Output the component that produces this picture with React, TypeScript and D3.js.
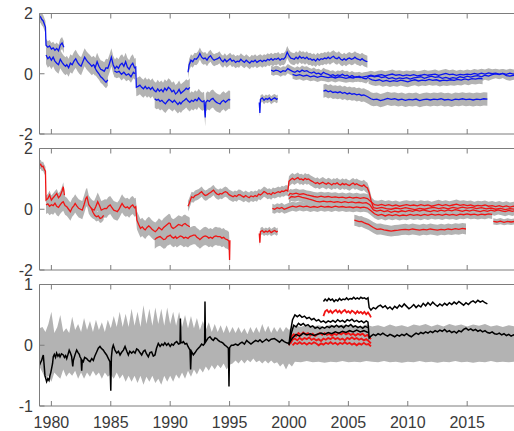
import React from 'react';
import * as d3 from 'd3';

type Pt = [number, number];
type BandPt = [number, number, number];

// ---- x axis
const YEAR_TICKS = [1980, 1985, 1990, 1995, 2000, 2005, 2010, 2015];

// ---- panel 1 (blue) : [year, value]
const b1Start: Pt[] = [[1979.0,1.92],[1979.1,1.88],[1979.2,1.8],[1979.3,1.76],[1979.4,1.66],[1979.5,1.55],[1979.55,0.95],[1979.7,0.88],[1979.85,0.92],[1980.0,0.82],[1980.15,0.86],[1980.3,0.78],[1980.45,0.84],[1980.6,0.76],[1980.75,0.95],[1980.9,1.02],[1981.05,0.88]];
const b1Main: Pt[] = [[1979.55,0.62],[1979.7,0.5],[1979.85,0.56],[1980.0,0.45],[1980.15,0.55],[1980.3,0.42],[1980.45,0.35],[1980.6,0.3],[1980.75,0.48],[1980.9,0.38],[1981.05,0.3],[1981.2,0.25],[1981.3,0.3],[1981.45,0.2],[1981.6,0.35],[1981.75,0.3],[1981.9,0.42],[1982.05,0.5],[1982.2,0.38],[1982.35,0.3],[1982.5,0.25],[1982.65,0.4],[1982.8,0.55],[1982.95,0.45],[1983.1,0.38],[1983.25,0.32],[1983.4,0.25],[1983.55,0.3],[1983.7,0.22],[1983.85,0.4],[1984.0,0.25],[1984.15,0.15],[1984.3,0.12],[1984.45,0.08],[1984.6,0.2],[1984.75,0.18],[1984.9,0.35],[1985.05,0.55],[1985.2,0.3],[1985.35,0.17],[1985.5,0.25],[1985.65,0.18],[1985.8,0.3],[1985.95,0.35],[1986.1,0.25],[1986.25,0.4],[1986.4,0.22],[1986.55,0.15],[1986.7,0.28],[1986.85,0.35],[1987.0,0.2],[1987.1,0.22],[1987.15,-0.45],[1987.3,-0.42],[1987.45,-0.38],[1987.6,-0.45],[1987.75,-0.5],[1987.9,-0.42],[1988.05,-0.5],[1988.2,-0.45],[1988.35,-0.52],[1988.5,-0.45],[1988.65,-0.55],[1988.8,-0.6],[1988.95,-0.5],[1989.1,-0.58],[1989.25,-0.52],[1989.4,-0.6],[1989.55,-0.48],[1989.7,-0.55],[1989.85,-0.45],[1990.0,-0.5],[1990.15,-0.6],[1990.3,-0.55],[1990.45,-0.67],[1990.6,-0.62],[1990.75,-0.52],[1990.9,-0.65],[1991.05,-0.6],[1991.2,-0.55],[1991.35,-0.48],[1991.5,-0.52],[1991.65,-0.45]];
const b1Branch84: Pt[] = [[1983.6,0.25],[1983.8,0.1],[1984.0,0.0],[1984.15,-0.1],[1984.3,-0.15],[1984.45,-0.22],[1984.6,-0.28],[1984.75,-0.2]];
const b1Branch86: Pt[] = [[1985.3,0.1],[1985.5,0.05],[1985.7,0.08],[1985.9,-0.02],[1986.1,0.05],[1986.3,-0.05],[1986.5,0.0],[1986.7,-0.1],[1986.9,0.05],[1987.05,0.0]];
const b1Low: Pt[] = [[1988.7,-0.83],[1988.85,-0.88],[1989.0,-0.85],[1989.15,-0.92],[1989.3,-0.88],[1989.45,-0.95],[1989.6,-1.0],[1989.75,-0.92],[1989.9,-0.85],[1990.05,-0.9],[1990.2,-0.95],[1990.35,-0.88],[1990.5,-0.95],[1990.65,-1.02],[1990.8,-0.95],[1990.9,-1.0],[1991.05,-0.92],[1991.2,-0.88],[1991.35,-0.82],[1991.5,-0.9],[1991.65,-0.95],[1991.8,-0.88],[1991.95,-0.92],[1992.1,-0.85],[1992.25,-0.9],[1992.4,-0.8],[1992.55,-0.88],[1992.7,-0.93],[1992.85,-0.9],[1992.95,-1.45],[1993.0,-0.95],[1993.15,-0.88],[1993.3,-0.92],[1993.45,-0.85],[1993.6,-0.82],[1993.75,-0.9],[1993.9,-0.95],[1994.05,-0.98],[1994.2,-1.0],[1994.35,-0.92],[1994.5,-0.88],[1994.65,-0.95],[1994.8,-0.9],[1994.95,-0.85],[1995.05,-0.88]];
const b1Up: Pt[] = [[1991.5,0.05],[1991.6,0.3],[1991.75,0.45],[1991.9,0.4],[1992.05,0.5],[1992.2,0.48],[1992.35,0.55],[1992.5,0.67],[1992.65,0.55],[1992.8,0.5],[1992.95,0.52],[1993.1,0.45],[1993.25,0.55],[1993.4,0.6],[1993.55,0.5],[1993.7,0.45],[1993.85,0.48],[1994.0,0.5],[1994.15,0.55],[1994.3,0.45],[1994.45,0.4],[1994.6,0.48],[1994.75,0.4],[1994.9,0.45],[1995.05,0.5],[1995.2,0.42],[1995.35,0.45],[1995.5,0.38],[1995.65,0.42],[1995.8,0.4],[1995.95,0.48],[1996.1,0.42],[1996.25,0.38],[1996.4,0.45],[1996.55,0.4],[1996.7,0.35],[1996.85,0.42],[1997.0,0.4],[1997.15,0.45],[1997.3,0.38],[1997.45,0.42],[1997.6,0.45],[1997.75,0.4],[1997.9,0.45],[1998.05,0.42],[1998.2,0.48],[1998.35,0.45],[1998.5,0.5],[1998.65,0.45],[1998.8,0.5],[1998.95,0.48],[1999.1,0.52],[1999.25,0.45],[1999.4,0.5],[1999.55,0.48],[1999.7,0.55],[1999.85,0.72],[2000.0,0.6],[2000.15,0.52],[2000.3,0.5],[2000.45,0.48],[2000.6,0.55],[2000.75,0.5],[2000.9,0.58],[2001.05,0.52],[2001.2,0.55],[2001.35,0.5],[2001.5,0.55],[2001.65,0.48],[2001.8,0.5],[2001.95,0.45],[2002.1,0.48],[2002.25,0.42],[2002.4,0.5],[2002.55,0.45],[2002.7,0.5],[2002.85,0.48],[2003.0,0.52],[2003.15,0.5],[2003.3,0.55],[2003.45,0.5],[2003.6,0.55],[2003.75,0.58],[2003.9,0.52],[2004.05,0.5],[2004.2,0.55],[2004.35,0.48],[2004.5,0.45],[2004.65,0.5],[2004.8,0.45],[2004.95,0.5],[2005.1,0.52],[2005.25,0.48],[2005.4,0.5],[2005.55,0.55],[2005.7,0.5],[2005.85,0.48],[2006.0,0.45],[2006.15,0.5],[2006.3,0.45],[2006.45,0.42],[2006.6,0.4]];
const b1Short: Pt[] = [[1997.5,-0.95],[1997.55,-1.3],[1997.6,-0.85],[1997.75,-0.8],[1997.9,-0.88],[1998.05,-0.82],[1998.2,-0.85],[1998.35,-0.8],[1998.5,-0.88],[1998.65,-0.83],[1998.8,-0.8],[1998.95,-0.85],[1999.05,-0.82]];
const b1Mid: Pt[] = [[1998.5,0.12],[1998.7,0.08],[1998.9,0.12],[1999.1,0.1],[1999.3,0.05],[1999.5,0.1],[1999.7,0.08],[1999.9,0.17],[2000.1,0.12],[2000.3,0.08],[2000.5,0.05],[2000.7,0.1],[2000.9,0.06],[2001.1,0.12],[2001.3,0.08],[2001.5,0.1],[2001.7,0.05],[2001.9,0.02],[2002.1,0.06],[2002.3,0.0],[2002.5,0.02],[2002.7,-0.03],[2002.9,0.05],[2003.1,0.0],[2003.3,-0.02],[2003.5,-0.06],[2003.7,-0.03],[2003.9,-0.08],[2004.1,-0.04],[2004.3,-0.06],[2004.5,-0.02],[2004.7,-0.07],[2004.9,-0.05],[2005.1,-0.1],[2005.3,-0.06],[2005.5,-0.1],[2005.7,-0.12],[2005.9,-0.08],[2006.1,-0.12],[2006.3,-0.15],[2006.5,-0.17],[2006.7,-0.1],[2006.9,-0.07],[2007.2,-0.1],[2007.5,-0.08],[2007.8,-0.13],[2008.1,-0.1],[2008.4,-0.16],[2008.7,-0.13],[2009.0,-0.18],[2009.3,-0.14],[2009.6,-0.16],[2009.9,-0.13],[2010.2,-0.18],[2010.5,-0.14],[2010.8,-0.12],[2011.1,-0.1],[2011.4,-0.15],[2011.7,-0.11],[2012.0,-0.08],[2012.3,-0.12],[2012.6,-0.1],[2012.9,-0.15],[2013.2,-0.12],[2013.5,-0.16],[2013.8,-0.13],[2014.1,-0.15],[2014.4,-0.1],[2014.7,-0.13],[2015.0,-0.08],[2015.3,-0.11],[2015.6,-0.08],[2015.9,-0.06],[2016.2,-0.1],[2016.5,-0.05],[2016.8,-0.08],[2017.1,-0.03],[2017.4,0.0],[2017.7,-0.03],[2018.0,0.01],[2018.3,-0.06],[2018.6,-0.08],[2018.9,-0.05],[2019.0,-0.06]];
const b1Mid2: Pt[] = [[2000.3,-0.02],[2000.6,-0.06],[2000.9,-0.03],[2001.2,-0.08],[2001.5,-0.05],[2001.8,-0.1],[2002.1,-0.07],[2002.4,-0.12],[2002.7,-0.08],[2003.0,-0.1],[2003.3,-0.13],[2003.6,-0.1],[2003.9,-0.14],[2004.2,-0.1],[2004.5,-0.12],[2004.8,-0.15],[2005.1,-0.12],[2005.4,-0.14],[2005.7,-0.1],[2006.0,-0.13],[2006.3,-0.1],[2006.6,-0.08],[2006.9,-0.05],[2007.2,-0.08],[2007.5,-0.05],[2007.8,-0.03],[2008.1,-0.07],[2008.4,-0.04],[2008.7,-0.01],[2009.0,-0.05],[2009.3,-0.03],[2009.6,-0.07],[2009.9,-0.04],[2010.2,-0.06],[2010.5,-0.03],[2010.8,-0.07],[2011.1,-0.05],[2011.4,-0.02],[2011.7,-0.05],[2012.0,-0.03],[2012.3,-0.01],[2012.6,-0.05],[2012.9,-0.02],[2013.2,0.01],[2013.5,-0.03],[2013.8,-0.01],[2014.1,-0.05],[2014.4,-0.02],[2014.7,-0.04],[2015.0,-0.01],[2015.3,-0.03],[2015.6,0.01],[2015.9,-0.02],[2016.2,0.02],[2016.5,-0.01],[2016.8,0.03],[2017.1,0.0],[2017.4,0.02],[2017.7,-0.01],[2018.0,0.01],[2018.3,-0.02],[2018.6,0.02],[2018.9,-0.01],[2019.0,0.0]];
const b1Mid3: Pt[] = [[2006.7,-0.15],[2007.0,-0.2],[2007.3,-0.23],[2007.6,-0.2],[2007.9,-0.25],[2008.2,-0.22],[2008.5,-0.26],[2008.8,-0.23],[2009.1,-0.25],[2009.4,-0.21],[2009.7,-0.24],[2010.0,-0.27],[2010.3,-0.23],[2010.6,-0.2],[2010.9,-0.24],[2011.2,-0.21],[2011.5,-0.23],[2011.8,-0.19],[2012.1,-0.22],[2012.4,-0.2],[2012.7,-0.24],[2013.0,-0.21],[2013.3,-0.23],[2013.6,-0.2],[2013.9,-0.22],[2014.2,-0.19],[2014.5,-0.21],[2014.8,-0.17],[2015.1,-0.2],[2015.4,-0.16],[2015.7,-0.18],[2016.0,-0.15],[2016.3,-0.17]];
const b1Low2: Pt[] = [[2002.9,-0.58],[2003.1,-0.55],[2003.3,-0.6],[2003.5,-0.57],[2003.7,-0.62],[2003.9,-0.6],[2004.1,-0.63],[2004.3,-0.6],[2004.5,-0.65],[2004.7,-0.62],[2004.9,-0.67],[2005.1,-0.64],[2005.3,-0.68],[2005.5,-0.66],[2005.7,-0.7],[2005.9,-0.68],[2006.1,-0.72],[2006.3,-0.7],[2006.5,-0.74],[2006.7,-0.78],[2006.9,-0.83],[2007.1,-0.86],[2007.4,-0.84],[2007.7,-0.89],[2008.0,-0.86],[2008.3,-0.82],[2008.6,-0.85],[2008.9,-0.83],[2009.2,-0.87],[2009.5,-0.84],[2009.8,-0.88],[2010.1,-0.85],[2010.4,-0.87],[2010.7,-0.84],[2011.0,-0.89],[2011.3,-0.86],[2011.6,-0.84],[2011.9,-0.87],[2012.2,-0.84],[2012.5,-0.86],[2012.8,-0.83],[2013.1,-0.87],[2013.4,-0.85],[2013.7,-0.88],[2014.0,-0.84],[2014.3,-0.86],[2014.6,-0.83],[2014.9,-0.86],[2015.2,-0.84],[2015.5,-0.87],[2015.8,-0.84],[2016.1,-0.86],[2016.4,-0.83],[2016.7,-0.84]];

// ---- panel 2 (red)
const r2Start: Pt[] = [[1979.0,1.45],[1979.1,1.48],[1979.2,1.4],[1979.3,1.42],[1979.4,1.32],[1979.5,1.25],[1979.55,0.3],[1979.7,0.35],[1979.85,0.47],[1980.0,0.3],[1980.15,0.38],[1980.3,0.45],[1980.45,0.52],[1980.6,0.38],[1980.75,0.45],[1980.9,0.6],[1981.0,0.74],[1981.1,0.46]];
const r2Main: Pt[] = [[1979.55,0.14],[1979.7,0.18],[1979.85,0.1],[1980.0,0.15],[1980.15,0.12],[1980.3,0.2],[1980.45,0.1],[1980.6,0.06],[1980.75,0.15],[1980.9,0.22],[1981.0,0.25],[1981.15,0.12],[1981.3,0.08],[1981.45,0.0],[1981.6,-0.08],[1981.75,0.05],[1981.9,0.12],[1982.0,0.19],[1982.15,0.1],[1982.3,0.03],[1982.45,0.0],[1982.6,-0.03],[1982.75,0.15],[1982.9,0.35],[1983.0,0.41],[1983.15,0.15],[1983.3,0.06],[1983.45,0.0],[1983.6,-0.03],[1983.75,0.1],[1983.9,0.25],[1984.05,0.12],[1984.2,-0.03],[1984.35,0.0],[1984.5,0.03],[1984.65,0.02],[1984.8,0.1],[1984.95,0.14],[1985.1,0.05],[1985.25,-0.03],[1985.4,-0.05],[1985.55,-0.08],[1985.7,0.0],[1985.85,0.12],[1985.95,0.19],[1986.1,0.1],[1986.25,0.05],[1986.4,0.08],[1986.55,0.02],[1986.7,0.1],[1986.85,0.14],[1987.0,0.05],[1987.1,0.08],[1987.2,-0.36],[1987.35,-0.5],[1987.5,-0.63],[1987.65,-0.58],[1987.8,-0.65],[1987.9,-0.68],[1988.05,-0.6],[1988.2,-0.55],[1988.3,-0.58],[1988.45,-0.65],[1988.6,-0.7],[1988.75,-0.74],[1988.9,-0.68],[1989.05,-0.6],[1989.15,-0.63],[1989.3,-0.68],[1989.45,-0.6],[1989.6,-0.55],[1989.75,-0.5],[1989.9,-0.45],[1990.0,-0.47],[1990.1,-0.58],[1990.25,-0.63],[1990.4,-0.6],[1990.55,-0.55],[1990.7,-0.5],[1990.85,-0.52],[1991.0,-0.55],[1991.1,-0.5],[1991.25,-0.47],[1991.4,-0.52],[1991.55,-0.55],[1991.65,-0.58]];
const r2Branch84: Pt[] = [[1983.35,0.05],[1983.5,-0.1],[1983.65,-0.2],[1983.8,-0.25],[1983.95,-0.22],[1984.1,-0.3],[1984.25,-0.28],[1984.4,-0.2]];
const r2Low: Pt[] = [[1988.7,-1.0],[1988.85,-0.95],[1989.0,-0.92],[1989.15,-0.9],[1989.3,-0.95],[1989.45,-1.0],[1989.6,-0.98],[1989.75,-0.9],[1989.9,-0.88],[1990.0,-0.85],[1990.15,-0.92],[1990.3,-0.95],[1990.45,-0.9],[1990.55,-0.96],[1990.7,-0.92],[1990.85,-0.88],[1991.0,-0.9],[1991.15,-0.95],[1991.3,-0.92],[1991.5,-0.96],[1991.65,-0.9],[1991.8,-0.88],[1991.95,-0.85],[1992.1,-0.85],[1992.25,-0.92],[1992.4,-0.96],[1992.5,-1.0],[1992.65,-0.95],[1992.8,-0.9],[1992.95,-0.88],[1993.1,-0.9],[1993.25,-0.95],[1993.4,-0.92],[1993.55,-0.96],[1993.7,-0.9],[1993.85,-0.88],[1994.0,-0.9],[1994.2,-0.9],[1994.35,-0.95],[1994.5,-0.92],[1994.65,-0.98],[1994.8,-1.0],[1994.95,-1.05],[1995.0,-1.67],[1995.03,-1.02]];
const r2Up: Pt[] = [[1991.5,0.1],[1991.6,0.19],[1991.8,0.41],[1991.95,0.38],[1992.1,0.45],[1992.25,0.47],[1992.4,0.5],[1992.55,0.55],[1992.65,0.58],[1992.8,0.5],[1992.95,0.45],[1993.1,0.47],[1993.25,0.52],[1993.4,0.55],[1993.55,0.6],[1993.65,0.63],[1993.8,0.55],[1993.95,0.5],[1994.1,0.48],[1994.2,0.52],[1994.35,0.5],[1994.5,0.55],[1994.65,0.58],[1994.8,0.55],[1994.95,0.48],[1995.1,0.45],[1995.3,0.41],[1995.45,0.45],[1995.6,0.42],[1995.75,0.48],[1995.9,0.47],[1996.05,0.43],[1996.2,0.4],[1996.35,0.45],[1996.5,0.41],[1996.65,0.38],[1996.8,0.44],[1997.0,0.41],[1997.15,0.45],[1997.3,0.42],[1997.45,0.5],[1997.6,0.47],[1997.75,0.52],[1997.9,0.58],[1998.05,0.55],[1998.2,0.5],[1998.35,0.52],[1998.5,0.48],[1998.65,0.55],[1998.8,0.52],[1998.95,0.55],[1999.1,0.58],[1999.25,0.55],[1999.4,0.6],[1999.55,0.58],[1999.75,0.63],[1999.9,0.6],[2000.0,0.92],[2000.15,0.98],[2000.3,1.02],[2000.45,0.97],[2000.6,1.01],[2000.75,1.04],[2000.9,0.98],[2001.05,1.0],[2001.2,0.96],[2001.35,1.02],[2001.5,0.98],[2001.65,1.0],[2001.8,0.95],[2001.95,0.92],[2002.1,0.88],[2002.25,0.85],[2002.4,0.88],[2002.55,0.83],[2002.7,0.86],[2002.85,0.89],[2003.0,0.85],[2003.15,0.82],[2003.3,0.87],[2003.45,0.84],[2003.6,0.8],[2003.75,0.85],[2003.9,0.83],[2004.05,0.87],[2004.2,0.82],[2004.35,0.8],[2004.5,0.85],[2004.65,0.81],[2004.8,0.84],[2004.95,0.8],[2005.1,0.78],[2005.25,0.83],[2005.4,0.86],[2005.55,0.81],[2005.7,0.84],[2005.85,0.8],[2006.0,0.78],[2006.15,0.76],[2006.3,0.8],[2006.45,0.74],[2006.6,0.7],[2006.75,0.55],[2006.9,0.3],[2007.1,0.05],[2007.4,0.03],[2007.8,0.06],[2008.2,0.02],[2008.6,0.0],[2009.0,0.04],[2009.4,0.01],[2009.8,0.05],[2010.2,0.02],[2010.6,-0.01],[2011.0,0.03],[2011.4,0.0],[2011.8,0.04],[2012.2,0.06],[2012.6,0.02],[2013.0,0.05],[2013.4,0.01],[2013.8,0.06],[2014.2,0.03],[2014.6,0.07],[2015.0,0.04],[2015.4,0.06],[2015.8,0.02],[2016.2,0.05],[2016.6,0.01],[2017.0,0.04],[2017.4,0.0],[2017.8,0.03],[2018.2,-0.01],[2018.6,0.02],[2019.0,0.0]];
const r2L2: Pt[] = [[1999.95,0.45],[2000.1,0.52],[2000.3,0.5],[2000.6,0.53],[2000.9,0.49],[2001.2,0.51],[2001.5,0.47],[2001.8,0.45],[2002.1,0.42],[2002.4,0.4],[2002.7,0.43],[2003.0,0.4],[2003.3,0.42],[2003.6,0.39],[2003.9,0.41],[2004.2,0.38],[2004.5,0.4],[2004.8,0.37],[2005.1,0.4],[2005.4,0.37],[2005.7,0.39],[2006.0,0.36],[2006.3,0.38],[2006.6,0.35],[2006.9,0.25],[2007.2,0.15],[2007.5,0.13],[2007.8,0.16],[2008.1,0.12],[2008.4,0.15],[2008.7,0.11],[2009.0,0.14],[2009.3,0.1],[2009.6,0.13],[2009.9,0.15],[2010.2,0.12],[2010.5,0.14],[2010.8,0.11],[2011.1,0.15],[2011.4,0.12],[2011.7,0.14],[2012.0,0.1],[2012.3,0.13],[2012.6,0.16],[2012.9,0.12],[2013.2,0.15],[2013.5,0.11],[2013.8,0.14],[2014.1,0.17],[2014.4,0.13],[2014.7,0.15],[2015.0,0.12],[2015.3,0.14],[2015.6,0.1],[2015.9,0.13],[2016.2,0.11],[2016.5,0.14],[2016.8,0.1],[2017.1,0.12],[2017.4,0.09],[2017.7,0.12],[2018.0,0.08],[2018.3,0.11],[2018.6,0.07],[2018.9,0.1],[2019.0,0.09]];
const r2L3: Pt[] = [[2000.0,0.35],[2000.2,0.42],[2000.5,0.4],[2000.8,0.43],[2001.1,0.39],[2001.4,0.37],[2001.7,0.33],[2002.0,0.3],[2002.3,0.26],[2002.6,0.24],[2002.9,0.27],[2003.2,0.24],[2003.5,0.26],[2003.8,0.23],[2004.1,0.25],[2004.4,0.22],[2004.7,0.25],[2005.0,0.22],[2005.3,0.24],[2005.6,0.21],[2005.9,0.23],[2006.2,0.2],[2006.5,0.22],[2006.8,0.15],[2007.1,-0.02],[2007.4,-0.06],[2007.7,-0.03],[2008.0,-0.08],[2008.3,-0.05],[2008.6,-0.1],[2008.9,-0.06],[2009.2,-0.09],[2009.5,-0.05],[2009.8,-0.08],[2010.1,-0.04],[2010.4,-0.07],[2010.7,-0.03],[2011.0,-0.06],[2011.3,-0.02],[2011.6,-0.05],[2011.9,-0.08],[2012.2,-0.04],[2012.5,-0.07],[2012.8,-0.03],[2013.1,-0.06],[2013.4,-0.02],[2013.7,-0.05],[2014.0,-0.01],[2014.3,-0.04],[2014.6,-0.07],[2014.9,-0.03],[2015.2,-0.06],[2015.5,-0.02],[2015.8,-0.05],[2016.1,-0.08],[2016.4,-0.04],[2016.7,-0.07],[2017.0,-0.03],[2017.3,-0.06],[2017.6,-0.02],[2017.9,-0.05],[2018.2,-0.08],[2018.5,-0.04],[2018.8,-0.07],[2019.0,-0.05]];
const r2L4: Pt[] = [[1998.6,0.03],[1998.8,0.0],[1999.0,0.05],[1999.2,0.02],[1999.4,0.06],[1999.6,0.0],[1999.8,0.03],[2000.0,0.06],[2000.3,0.1],[2000.6,0.07],[2000.9,0.11],[2001.2,0.08],[2001.5,0.1],[2001.8,0.06],[2002.1,0.09],[2002.4,0.06],[2002.7,0.1],[2003.0,0.07],[2003.3,0.09],[2003.6,0.06],[2003.9,0.1],[2004.2,0.07],[2004.5,0.09],[2004.8,0.06],[2005.1,0.08],[2005.4,0.05],[2005.7,0.08],[2006.0,0.05],[2006.3,0.07],[2006.6,0.04],[2006.9,-0.05],[2007.2,-0.15],[2007.5,-0.2],[2007.8,-0.17],[2008.1,-0.22],[2008.4,-0.18],[2008.7,-0.21],[2009.0,-0.18],[2009.3,-0.22],[2009.6,-0.19],[2009.9,-0.21],[2010.2,-0.17],[2010.5,-0.2],[2010.8,-0.18],[2011.1,-0.21],[2011.4,-0.17],[2011.7,-0.2],[2012.0,-0.16],[2012.3,-0.19],[2012.6,-0.17],[2012.9,-0.2],[2013.2,-0.16],[2013.5,-0.19],[2013.8,-0.17],[2014.1,-0.2],[2014.4,-0.16],[2014.7,-0.18],[2015.0,-0.15],[2015.3,-0.18],[2015.6,-0.16],[2015.9,-0.19],[2016.2,-0.16],[2016.5,-0.18],[2016.8,-0.15],[2017.1,-0.17]];
const r2Low2: Pt[] = [[2005.5,-0.36],[2005.7,-0.38],[2005.9,-0.41],[2006.1,-0.4],[2006.3,-0.44],[2006.5,-0.47],[2006.7,-0.5],[2006.9,-0.55],[2007.1,-0.6],[2007.4,-0.66],[2007.7,-0.65],[2008.0,-0.68],[2008.3,-0.7],[2008.6,-0.72],[2008.9,-0.7],[2009.2,-0.69],[2009.5,-0.67],[2009.8,-0.66],[2010.1,-0.68],[2010.4,-0.65],[2010.7,-0.67],[2011.0,-0.69],[2011.3,-0.66],[2011.6,-0.68],[2011.9,-0.65],[2012.2,-0.67],[2012.5,-0.69],[2012.8,-0.66],[2013.1,-0.68],[2013.4,-0.65],[2013.7,-0.67],[2014.0,-0.64],[2014.3,-0.66],[2014.6,-0.63],[2014.9,-0.65]];
const r2Short: Pt[] = [[1997.5,-0.8],[1997.55,-1.1],[1997.6,-0.74],[1997.75,-0.7],[1997.9,-0.76],[1998.05,-0.72],[1998.2,-0.75],[1998.35,-0.7],[1998.5,-0.77],[1998.65,-0.73],[1998.8,-0.7],[1998.95,-0.75],[1999.05,-0.72]];
const r2Right: Pt[] = [[2017.2,-0.4],[2017.5,-0.42],[2017.8,-0.39],[2018.1,-0.43],[2018.4,-0.4],[2018.7,-0.42],[2019.0,-0.4]];

// ---- panel 3 : gray envelope [year, lo, hi]
const p3Band: BandPt[] = [[1979.0,-0.35,0.28],[1979.25,-0.45,0.3],[1979.5,-0.55,0.22],[1979.75,-0.5,0.35],[1980.0,-0.6,0.55],[1980.25,-0.45,0.2],[1980.5,-0.5,0.3],[1980.75,-0.55,0.5],[1981.0,-0.4,0.22],[1981.25,-0.52,0.28],[1981.5,-0.45,0.2],[1981.75,-0.5,0.47],[1982.0,-0.42,0.25],[1982.25,-0.55,0.35],[1982.5,-0.45,0.22],[1982.75,-0.55,0.45],[1983.0,-0.45,0.25],[1983.25,-0.52,0.4],[1983.5,-0.42,0.22],[1983.75,-0.5,0.42],[1984.0,-0.45,0.25],[1984.25,-0.55,0.38],[1984.5,-0.45,0.22],[1984.75,-0.52,0.42],[1985.0,-0.48,0.28],[1985.25,-0.55,0.48],[1985.5,-0.45,0.3],[1985.75,-0.55,0.55],[1986.0,-0.48,0.3],[1986.25,-0.6,0.52],[1986.5,-0.5,0.3],[1986.75,-0.6,0.6],[1987.0,-0.5,0.32],[1987.25,-0.62,0.55],[1987.5,-0.5,0.3],[1987.75,-0.65,0.66],[1988.0,-0.52,0.35],[1988.25,-0.6,0.6],[1988.5,-0.5,0.32],[1988.75,-0.62,0.62],[1989.0,-0.55,0.35],[1989.25,-0.65,0.6],[1989.5,-0.5,0.32],[1989.75,-0.6,0.62],[1990.0,-0.5,0.35],[1990.25,-0.6,0.55],[1990.5,-0.48,0.32],[1990.75,-0.55,0.55],[1991.0,-0.45,0.3],[1991.25,-0.55,0.5],[1991.5,-0.42,0.28],[1991.75,-0.52,0.48],[1992.0,-0.4,0.28],[1992.25,-0.48,0.45],[1992.5,-0.38,0.25],[1992.75,-0.45,0.4],[1993.0,-0.35,0.25],[1993.25,-0.42,0.38],[1993.5,-0.33,0.22],[1993.75,-0.4,0.35],[1994.0,-0.32,0.22],[1994.25,-0.38,0.33],[1994.5,-0.3,0.2],[1994.75,-0.4,0.33],[1995.0,-0.32,0.2],[1995.25,-0.3,0.3],[1995.5,-0.25,0.2],[1995.75,-0.3,0.3],[1996.0,-0.24,0.2],[1996.25,-0.3,0.28],[1996.5,-0.24,0.18],[1996.75,-0.28,0.3],[1997.0,-0.22,0.2],[1997.25,-0.28,0.3],[1997.5,-0.25,0.2],[1997.75,-0.3,0.35],[1998.0,-0.25,0.22],[1998.25,-0.3,0.32],[1998.5,-0.25,0.2],[1998.75,-0.3,0.3],[1999.0,-0.28,0.22],[1999.25,-0.35,0.3],[1999.5,-0.3,0.22],[1999.75,-0.4,0.3],[2000.0,-0.3,0.25],[2000.25,-0.35,0.3],[2000.5,-0.27,0.33],[2001.0,-0.28,0.3],[2001.5,-0.26,0.34],[2002.0,-0.28,0.31],[2002.5,-0.27,0.33],[2003.0,-0.29,0.3],[2003.5,-0.27,0.34],[2004.0,-0.28,0.32],[2004.5,-0.26,0.34],[2005.0,-0.28,0.31],[2005.5,-0.27,0.33],[2006.0,-0.28,0.3],[2006.5,-0.26,0.34],[2007.0,-0.27,0.31],[2007.5,-0.28,0.33],[2008.0,-0.26,0.3],[2008.5,-0.28,0.34],[2009.0,-0.27,0.31],[2009.5,-0.29,0.33],[2010.0,-0.27,0.3],[2010.5,-0.28,0.34],[2011.0,-0.26,0.32],[2011.5,-0.28,0.35],[2012.0,-0.27,0.31],[2012.5,-0.29,0.34],[2013.0,-0.27,0.31],[2013.5,-0.28,0.35],[2014.0,-0.26,0.32],[2014.5,-0.28,0.34],[2015.0,-0.27,0.31],[2015.5,-0.29,0.34],[2016.0,-0.27,0.32],[2016.5,-0.28,0.35],[2017.0,-0.26,0.31],[2017.5,-0.28,0.33],[2018.0,-0.27,0.3],[2018.5,-0.28,0.33],[2019.0,-0.27,0.31]];

// ---- panel 3 black / red lines
const k3Main: Pt[] = [[1979.0,-0.33],[1979.1,-0.28],[1979.18,-0.25],[1979.25,-0.2],[1979.32,-0.16],[1979.4,-0.35],[1979.46,-0.5],[1979.53,-0.55],[1979.6,-0.6],[1979.7,-0.55],[1979.8,-0.58],[1979.88,-0.5],[1979.95,-0.45],[1980.02,-0.38],[1980.1,-0.3],[1980.16,-0.19],[1980.25,-0.15],[1980.35,-0.2],[1980.44,-0.13],[1980.55,-0.18],[1980.65,-0.15],[1980.73,-0.19],[1980.85,-0.14],[1981.0,-0.16],[1981.1,-0.2],[1981.2,-0.17],[1981.29,-0.22],[1981.4,-0.15],[1981.5,-0.08],[1981.57,-0.11],[1981.7,-0.18],[1981.8,-0.35],[1981.85,-0.25],[1982.0,-0.15],[1982.13,-0.08],[1982.25,-0.12],[1982.35,-0.15],[1982.41,-0.19],[1982.5,-0.22],[1982.55,-0.42],[1982.6,-0.25],[1982.69,-0.27],[1982.8,-0.2],[1982.97,-0.22],[1983.1,-0.25],[1983.25,-0.27],[1983.4,-0.22],[1983.53,-0.25],[1983.65,-0.18],[1983.81,-0.11],[1983.95,-0.05],[1984.09,-0.02],[1984.2,-0.05],[1984.37,-0.08],[1984.5,-0.12],[1984.65,-0.16],[1984.8,-0.22],[1984.93,-0.27],[1985.0,-0.75],[1985.05,-0.2],[1985.13,-0.05],[1985.21,0.0],[1985.35,-0.08],[1985.5,-0.13],[1985.65,-0.1],[1985.78,-0.16],[1985.9,-0.12],[1986.06,-0.08],[1986.2,-0.02],[1986.35,-0.1],[1986.48,-0.16],[1986.6,-0.1],[1986.76,-0.13],[1986.9,-0.1],[1987.04,-0.13],[1987.18,-0.06],[1987.32,-0.08],[1987.45,-0.12],[1987.6,-0.16],[1987.75,-0.1],[1987.88,-0.08],[1988.0,-0.14],[1988.16,-0.19],[1988.3,-0.12],[1988.44,-0.11],[1988.58,-0.18],[1988.72,-0.16],[1988.85,-0.05],[1989.0,0.03],[1989.15,-0.02],[1989.3,0.02],[1989.42,0.0],[1989.55,0.04],[1989.7,0.0],[1989.84,0.03],[1990.0,-0.02],[1990.13,0.02],[1990.27,0.0],[1990.4,0.04],[1990.55,0.06],[1990.7,0.02],[1990.83,0.03],[1990.86,0.44],[1990.9,0.05],[1991.0,0.04],[1991.11,0.06],[1991.25,0.02],[1991.39,0.03],[1991.5,-0.02],[1991.67,-0.08],[1991.72,-0.4],[1991.78,-0.1],[1991.95,-0.16],[1992.1,-0.12],[1992.23,-0.08],[1992.37,-0.05],[1992.51,-0.02],[1992.65,0.02],[1992.79,0.0],[1992.9,0.03],[1992.93,0.72],[1992.97,0.05],[1993.07,0.08],[1993.2,0.12],[1993.35,0.14],[1993.5,0.1],[1993.63,0.08],[1993.77,0.12],[1993.91,0.11],[1994.05,0.08],[1994.19,0.06],[1994.33,0.05],[1994.47,0.03],[1994.6,0.0],[1994.76,-0.02],[1994.9,-0.05],[1994.95,-0.68],[1995.0,-0.04],[1995.15,0.0],[1995.32,0.0],[1995.5,0.02],[1995.7,0.0],[1995.88,0.03],[1996.05,0.05],[1996.25,0.02],[1996.44,0.08],[1996.6,0.05],[1996.8,0.02],[1997.0,0.05],[1997.2,0.08],[1997.4,0.06],[1997.56,0.09],[1997.75,0.05],[1997.9,0.07],[1998.1,0.1],[1998.3,0.07],[1998.5,0.1],[1998.77,0.11],[1999.0,0.08],[1999.2,0.05],[1999.4,0.09],[1999.6,0.06],[1999.8,0.04],[2000.0,0.03]];
const k3A: Pt[] = [[2000.0,0.02],[2000.15,0.25],[2000.3,0.42],[2000.5,0.5],[2000.7,0.47],[2000.9,0.5],[2001.1,0.46],[2001.3,0.48],[2001.5,0.44],[2001.7,0.46],[2001.9,0.42],[2002.1,0.44],[2002.3,0.4],[2002.5,0.42],[2002.7,0.38],[2002.9,0.4],[2003.1,0.37],[2003.3,0.4],[2003.5,0.38],[2003.7,0.41],[2003.9,0.38],[2004.1,0.42],[2004.3,0.39],[2004.5,0.41],[2004.7,0.38],[2004.9,0.42],[2005.1,0.4],[2005.3,0.43],[2005.5,0.39],[2005.7,0.41],[2005.9,0.38],[2006.1,0.4],[2006.3,0.37],[2006.5,0.4],[2006.65,0.38],[2006.75,0.12],[2006.9,0.15],[2007.1,0.18],[2007.3,0.16],[2007.5,0.19],[2007.7,0.17],[2007.9,0.2],[2008.1,0.17],[2008.3,0.15],[2008.5,0.18],[2008.7,0.16],[2008.9,0.14],[2009.1,0.17],[2009.3,0.15],[2009.5,0.18],[2009.7,0.16],[2009.9,0.19],[2010.1,0.16],[2010.3,0.14],[2010.5,0.17],[2010.7,0.2],[2010.9,0.18],[2011.1,0.21],[2011.3,0.19],[2011.5,0.22],[2011.7,0.2],[2011.9,0.23],[2012.1,0.21],[2012.3,0.24],[2012.5,0.22],[2012.7,0.25],[2012.9,0.23],[2013.1,0.26],[2013.3,0.22],[2013.5,0.24],[2013.7,0.21],[2013.9,0.23],[2014.1,0.2],[2014.3,0.24],[2014.5,0.22],[2014.7,0.26],[2014.9,0.28],[2015.1,0.25],[2015.3,0.27],[2015.5,0.24],[2015.7,0.26],[2015.9,0.23],[2016.1,0.25],[2016.3,0.22],[2016.5,0.24],[2016.7,0.21],[2016.9,0.2],[2017.1,0.22],[2017.3,0.19],[2017.5,0.18],[2017.7,0.2],[2017.9,0.17],[2018.1,0.19],[2018.3,0.16],[2018.5,0.18],[2018.7,0.15],[2018.9,0.17],[2019.0,0.16]];
const k3B: Pt[] = [[2000.0,0.0],[2000.2,0.2],[2000.4,0.33],[2000.6,0.3],[2000.8,0.36],[2001.0,0.33],[2001.2,0.36],[2001.4,0.32],[2001.6,0.34],[2001.8,0.3],[2002.0,0.32],[2002.2,0.28],[2002.4,0.3],[2002.6,0.27],[2002.8,0.3],[2003.0,0.28],[2003.2,0.31],[2003.4,0.29],[2003.6,0.32],[2003.8,0.3],[2004.0,0.33],[2004.2,0.3],[2004.4,0.32],[2004.6,0.29],[2004.8,0.33],[2005.0,0.31],[2005.2,0.34],[2005.4,0.3],[2005.6,0.32],[2005.8,0.29],[2006.0,0.31],[2006.2,0.28],[2006.4,0.31],[2006.65,0.29]];
const k3C: Pt[] = [[2000.0,0.03],[2000.3,0.12],[2000.6,0.18],[2000.9,0.15],[2001.2,0.2],[2001.5,0.17],[2001.8,0.19],[2002.1,0.16],[2002.4,0.18],[2002.7,0.2],[2003.0,0.18],[2003.3,0.21],[2003.6,0.19],[2003.9,0.22],[2004.2,0.2],[2004.5,0.23],[2004.8,0.21],[2005.1,0.24],[2005.4,0.22],[2005.7,0.25],[2006.0,0.22],[2006.3,0.24],[2006.65,0.21]];
const k3D: Pt[] = [[2002.9,0.72],[2003.05,0.76],[2003.2,0.73],[2003.35,0.77],[2003.5,0.74],[2003.65,0.76],[2003.8,0.72],[2003.95,0.75],[2004.1,0.73],[2004.25,0.77],[2004.4,0.74],[2004.55,0.76],[2004.7,0.75],[2004.85,0.78],[2005.0,0.75],[2005.15,0.77],[2005.3,0.76],[2005.45,0.79],[2005.6,0.76],[2005.75,0.78],[2005.9,0.76],[2006.05,0.79],[2006.2,0.77],[2006.35,0.78],[2006.5,0.76],[2006.65,0.78],[2006.75,0.62],[2006.9,0.58],[2007.1,0.62],[2007.3,0.6],[2007.5,0.64],[2007.7,0.66],[2007.9,0.62],[2008.1,0.65],[2008.3,0.6],[2008.5,0.63],[2008.7,0.59],[2008.9,0.64],[2009.1,0.61],[2009.3,0.66],[2009.5,0.63],[2009.7,0.68],[2009.9,0.64],[2010.1,0.6],[2010.3,0.63],[2010.5,0.67],[2010.7,0.62],[2010.9,0.66],[2011.1,0.63],[2011.3,0.69],[2011.5,0.65],[2011.7,0.7],[2011.9,0.66],[2012.1,0.71],[2012.3,0.67],[2012.5,0.64],[2012.7,0.68],[2012.9,0.65],[2013.1,0.69],[2013.3,0.66],[2013.5,0.7],[2013.7,0.67],[2013.9,0.71],[2014.1,0.68],[2014.3,0.72],[2014.5,0.69],[2014.7,0.66],[2014.9,0.7],[2015.1,0.67],[2015.3,0.71],[2015.5,0.73],[2015.7,0.7],[2015.9,0.74],[2016.1,0.71],[2016.3,0.73],[2016.5,0.7],[2016.7,0.68]];
const r3Top: Pt[] = [[2002.9,0.48],[2003.05,0.56],[2003.2,0.58],[2003.35,0.54],[2003.5,0.57],[2003.65,0.53],[2003.8,0.56],[2003.95,0.58],[2004.1,0.54],[2004.25,0.57],[2004.4,0.53],[2004.55,0.56],[2004.7,0.58],[2004.85,0.54],[2005.0,0.56],[2005.15,0.53],[2005.3,0.57],[2005.45,0.55],[2005.6,0.52],[2005.75,0.56],[2005.9,0.53],[2006.05,0.55],[2006.2,0.52],[2006.35,0.55],[2006.5,0.51],[2006.65,0.54],[2006.8,0.5],[2006.9,0.46]];
const r3A: Pt[] = [[2000.0,0.0],[2000.2,0.14],[2000.4,0.18],[2000.6,0.15],[2000.8,0.2],[2001.0,0.17],[2001.2,0.21],[2001.4,0.18],[2001.6,0.2],[2001.8,0.16],[2002.0,0.19],[2002.2,0.15],[2002.4,0.18],[2002.6,0.2],[2002.8,0.17],[2003.0,0.2],[2003.2,0.17],[2003.4,0.19],[2003.6,0.16],[2003.8,0.19],[2004.0,0.17],[2004.2,0.2],[2004.4,0.18],[2004.6,0.21],[2004.8,0.18],[2005.0,0.2],[2005.2,0.17],[2005.4,0.19],[2005.6,0.16],[2005.8,0.19],[2006.0,0.17],[2006.2,0.19],[2006.4,0.15],[2006.6,0.17],[2006.9,0.1]];
const r3B: Pt[] = [[2000.1,0.02],[2000.3,0.09],[2000.5,0.11],[2000.7,0.08],[2000.9,0.12],[2001.1,0.09],[2001.3,0.12],[2001.5,0.1],[2001.7,0.13],[2001.9,0.09],[2002.1,0.11],[2002.3,0.08],[2002.5,0.1],[2002.7,0.07],[2002.9,0.11],[2003.1,0.09],[2003.3,0.12],[2003.5,0.1],[2003.7,0.13],[2003.9,0.1],[2004.1,0.12],[2004.3,0.09],[2004.5,0.11],[2004.7,0.08],[2004.9,0.12],[2005.1,0.1],[2005.3,0.13],[2005.5,0.1],[2005.7,0.12],[2005.9,0.09],[2006.1,0.11],[2006.3,0.08],[2006.5,0.1],[2006.7,0.07],[2006.9,0.03]];
const r3C: Pt[] = [[2000.3,0.0],[2000.5,0.04],[2000.7,0.02],[2000.9,0.05],[2001.1,0.02],[2001.3,0.04],[2001.5,0.01],[2001.7,0.04],[2001.9,0.02],[2002.1,0.05],[2002.3,0.03],[2002.5,0.0],[2002.7,0.03],[2002.9,0.01],[2003.1,0.04],[2003.3,0.02],[2003.5,0.05],[2003.7,0.02],[2003.9,0.04],[2004.1,0.01],[2004.3,0.04],[2004.5,0.02],[2004.7,0.05],[2004.9,0.02],[2005.1,0.04],[2005.3,0.01],[2005.5,0.03],[2005.7,0.0],[2005.9,0.03],[2006.1,0.01],[2006.3,0.04],[2006.5,0.01],[2006.7,0.02],[2006.9,-0.02]];

// series + half-width of the gray confidence band
const p1Series = [
  { pts: b1Start, hw: 0.2 }, { pts: b1Main, hw: 0.3 }, { pts: b1Branch84, hw: 0.2 },
  { pts: b1Branch86, hw: 0.2 }, { pts: b1Low, hw: 0.3 }, { pts: b1Up, hw: 0.2 },
  { pts: b1Short, hw: 0.13 }, { pts: b1Mid, hw: 0.15 }, { pts: b1Mid2, hw: 0.15 },
  { pts: b1Mid3, hw: 0.18 }, { pts: b1Low2, hw: 0.22 },
];
const p2Series = [
  { pts: r2Start, hw: 0.15 }, { pts: r2Main, hw: 0.3 }, { pts: r2Branch84, hw: 0.15 },
  { pts: r2Low, hw: 0.3 }, { pts: r2Up, hw: 0.17 }, { pts: r2L2, hw: 0.15 },
  { pts: r2L3, hw: 0.15 }, { pts: r2L4, hw: 0.15 }, { pts: r2Low2, hw: 0.18 },
  { pts: r2Short, hw: 0.12 }, { pts: r2Right, hw: 0.1 },
];
const p3Black = [k3Main, k3A, k3B, k3C, k3D];
const p3Red = [r3Top, r3A, r3B, r3C];

const GRAY = '#b3b3b3';
const AXIS = '#7d7d7d';
const LABEL = '#3a3a3a';
const FONT = 'Liberation Sans, Arial, Helvetica, sans-serif';

const x = d3.scaleLinear().domain([1979, 2019]).range([39.5, 514.7]);

type PanelProps = {
  id: string;
  top: number;
  bottom: number;
  domain: [number, number];
  ticks: number[];
  children: (y: d3.ScaleLinear<number, number>) => React.ReactNode;
  xLabels?: boolean;
};

function Panel({ id, top, bottom, domain, ticks, children, xLabels }: PanelProps) {
  const y = d3.scaleLinear().domain(domain).range([bottom, top]);
  const left = x.range()[0];
  const right = x.range()[1];
  return (
    <g>
      <clipPath id={id}>
        <rect x={left} y={top} width={right - left} height={bottom - top} />
      </clipPath>
      <g clipPath={`url(#${id})`}>{children(y)}</g>
      {/* frame */}
      <line x1={left} x2={right} y1={top} y2={top} stroke={AXIS} />
      <line x1={left} x2={right} y1={bottom} y2={bottom} stroke={AXIS} />
      <line x1={left} x2={left} y1={top} y2={bottom} stroke={AXIS} />
      {YEAR_TICKS.map((t) => (
        <g key={t}>
          <line x1={x(t)} x2={x(t)} y1={top} y2={top + 5} stroke={AXIS} />
          <line x1={x(t)} x2={x(t)} y1={bottom} y2={bottom - 5} stroke={AXIS} />
          {xLabels && (
            <text x={x(t)} y={bottom + 22} textAnchor="middle" fontSize={16} fontFamily={FONT} fill={LABEL}>
              {t}
            </text>
          )}
        </g>
      ))}
      {ticks.map((t) => (
        <g key={t}>
          <line x1={left} x2={left + 5} y1={y(t)} y2={y(t)} stroke={AXIS} />
          <text x={33} y={y(t)} dy="0.36em" textAnchor="end" fontSize={16} fontFamily={FONT} fill={LABEL}>
            {t}
          </text>
        </g>
      ))}
    </g>
  );
}

function seriesLayers(
  y: d3.ScaleLinear<number, number>,
  series: { pts: Pt[]; hw: number }[],
  color: string,
) {
  const line = d3.line<Pt>().x((d) => x(d[0])).y((d) => y(d[1]));
  return (
    <>
      {series.map((s, i) => {
        const area = d3.area<Pt>().x((d) => x(d[0])).y0((d) => y(d[1] - s.hw)).y1((d) => y(d[1] + s.hw));
        return <path key={`a${i}`} d={area(s.pts) ?? ''} fill={GRAY} />;
      })}
      {series.map((s, i) => (
        <path key={`l${i}`} d={line(s.pts) ?? ''} fill="none" stroke={color} strokeWidth={1.3} />
      ))}
    </>
  );
}

export default function App() {
  return (
    <svg width={514} height={431} style={{ position: 'absolute', left: 0, top: 0, background: '#fff' }}>
      <Panel id="c1" top={13.5} bottom={134} domain={[-2, 2]} ticks={[-2, 0, 2]}>
        {(y) => seriesLayers(y, p1Series, '#0a14f0')}
      </Panel>
      <Panel id="c2" top={148.5} bottom={270} domain={[-2, 2]} ticks={[-2, 0, 2]}>
        {(y) => seriesLayers(y, p2Series, '#f01414')}
      </Panel>
      <Panel id="c3" top={284.5} bottom={406} domain={[-1, 1]} ticks={[-1, 0, 1]} xLabels>
        {(y) => {
          const area = d3.area<BandPt>().x((d) => x(d[0])).y0((d) => y(d[1])).y1((d) => y(d[2]));
          const line = d3.line<Pt>().x((d) => x(d[0])).y((d) => y(d[1]));
          return (
            <>
              <path d={area(p3Band) ?? ''} fill={GRAY} />
              {p3Red.map((s, i) => (
                <path key={`r${i}`} d={line(s) ?? ''} fill="none" stroke="#f01414" strokeWidth={1.8} />
              ))}
              {p3Black.map((s, i) => (
                <path key={`k${i}`} d={line(s) ?? ''} fill="none" stroke="#000" strokeWidth={1.5} />
              ))}
            </>
          );
        }}
      </Panel>
    </svg>
  );
}
